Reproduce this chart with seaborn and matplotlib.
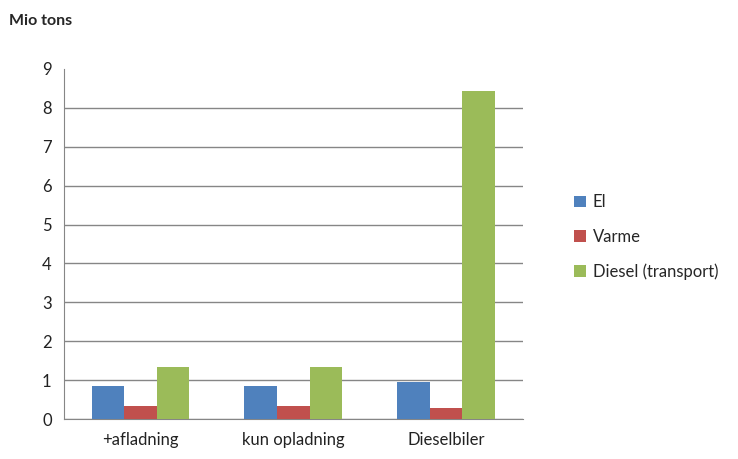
import pandas as pd
import matplotlib.pyplot as plt
import seaborn as sns

categories = ['+afladning', 'kun opladning', 'Dieselbiler']
el = [0.86, 0.86, 0.94]
varme = [0.33, 0.33, 0.29]
diesel = [1.33, 1.33, 8.43]
series = ['El', 'Varme', 'Diesel (transport)']
colors = ['#4F81BD', '#C0504D', '#9BBB59']

rows = []
for name, vals in zip(series, [el, varme, diesel]):
    for c, v in zip(categories, vals):
        rows.append({'cat': c, 'serie': name, 'val': v})
df = pd.DataFrame(rows)

sns.set_style('white')
plt.rcParams['font.family'] = ['Lato', 'DejaVu Sans']

fig = plt.figure(figsize=(7.38, 4.59), dpi=100)
ax = fig.add_axes([0.087, 0.087, 0.621, 0.763])
sns.barplot(data=df, x='cat', y='val', hue='serie', palette=colors,
            width=0.64, saturation=1, linewidth=0, ax=ax, zorder=3)
ax.set_ylim(0, 9)
ax.set_yticks(range(0, 10))
ax.yaxis.grid(True, color='#868686', linewidth=1, zorder=0)
ax.get_ygridlines()[-1].set_visible(False)
ax.set_axisbelow(True)
for s in ['top', 'right']:
    ax.spines[s].set_visible(False)
for s in ['left', 'bottom']:
    ax.spines[s].set_color('#868686')
ax.tick_params(length=0, labelsize=12, colors='#222222', pad=9)
ax.set_xlabel('')
ax.set_ylabel('')
fig.text(0.012, 0.945, 'Mio tons', fontsize=11.5, fontweight='bold')
ax.legend(loc='center left', bbox_to_anchor=(1.08, 0.52), frameon=False,
          fontsize=12, handlelength=0.7, handleheight=0.7, labelspacing=1.1,
          handletextpad=0.4)
fig.savefig('out.png', dpi=100)
